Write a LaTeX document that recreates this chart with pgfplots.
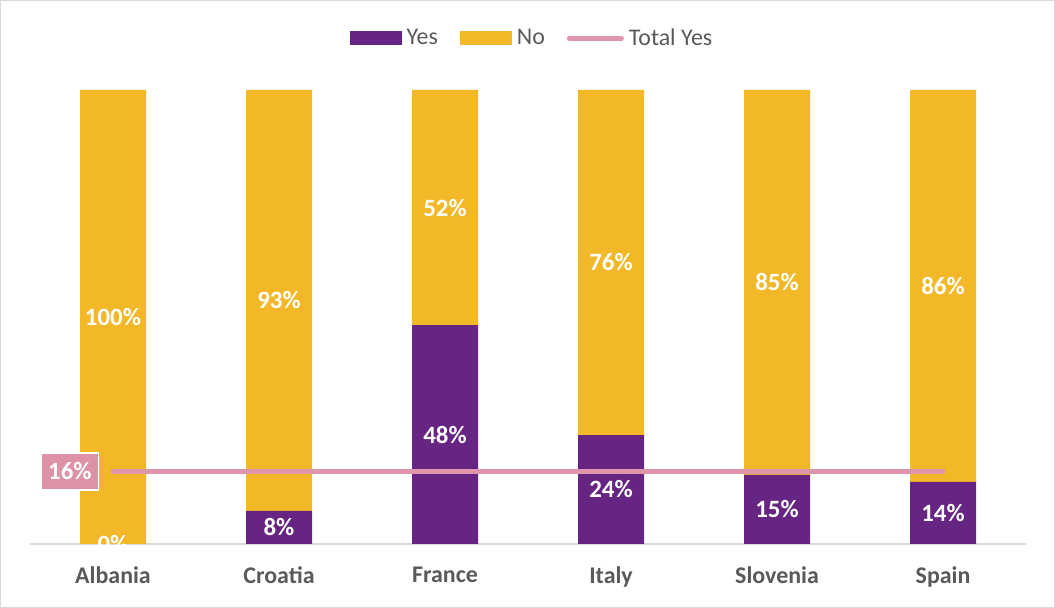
\documentclass[border=0pt]{standalone}
\usepackage{fontspec}
\setmainfont{Carlito}
\usepackage{pgfplots}
\pgfplotsset{compat=1.18}
\definecolor{yesc}{RGB}{102,36,131}
\definecolor{noc}{RGB}{242,184,39}
\definecolor{pinkc}{RGB}{224,150,170}
\definecolor{boxc}{RGB}{222,146,168}
\definecolor{txtc}{RGB}{89,89,89}
\definecolor{axc}{RGB}{217,217,217}
\begin{document}
\begin{tikzpicture}[x=1bp,y=1bp]
\useasboundingbox (-30,-64) rectangle (1025,544);
\draw[axc, line width=1.2bp] (-29.4,-63.4) rectangle (1024.4,543.4);
\pgfplotsset{
  base/.style={
    scale only axis, width=996bp, height=454bp,
    xmin=-0.5, xmax=5.5, ymin=0, ymax=100,
    at={(0,0)}, anchor=south west,
  }
}
\begin{axis}[base,
  ybar stacked, bar width=66bp,
  axis x line*=bottom, axis y line=none,
  x axis line style={axc, line width=1.2bp},
  xtick={0,...,5},
  xticklabels={Albania,Croatia,France,Italy,Slovenia,Spain},
  major tick length=0pt,
  xticklabel style={text=txtc, font=\fontsize{24}{28}\selectfont\bfseries, yshift=-19bp},
  ytick=\empty,
  legend columns=3,
  legend style={at={(0.504,1.1145)}, anchor=center, draw=none, fill=none,
    font=\fontsize{24}{28}\selectfont, text=txtc,
    nodes={inner sep=2bp},
    /tikz/every odd column/.append style={column sep=3bp},
    /tikz/every even column/.append style={column sep=20bp}},
]
\addplot[fill=yesc, draw=none,
  legend image code/.code={\fill[yesc] (0bp,-7bp) rectangle (52bp,7bp);}]
  coordinates {(0,0) (1,7.3) (2,48.2) (3,24.0) (4,15.2) (5,13.7)};
\addlegendentry{Yes}
\addplot[fill=noc, draw=none,
  legend image code/.code={\fill[noc] (0bp,-7bp) rectangle (52bp,7bp);}]
  coordinates {(0,100) (1,92.7) (2,51.8) (3,76.0) (4,84.8) (5,86.3)};
\addlegendentry{No}
\addlegendimage{legend image code/.code={\draw[pinkc, line width=5bp, line cap=round] (2bp,0bp) -- (54bp,0bp);}}
\addlegendentry{Total Yes}
\end{axis}
\begin{axis}[base, hide axis]
\addplot[pinkc, line width=5bp, line cap=round] coordinates {(0,16) (5,16)};
\addplot[draw=none, mark=none, nodes near coords, point meta=explicit symbolic,
  every node near coord/.style={anchor=center, text=white, font=\fontsize{25}{29}\selectfont\bfseries}]
  coordinates {(0,0.1)[0\%] (1,3.65)[8\%] (2,24.1)[48\%] (3,12)[24\%] (4,7.6)[15\%] (5,6.85)[14\%]
  (0,50)[100\%] (1,53.65)[93\%] (2,74.1)[52\%] (3,62)[76\%] (4,57.6)[85\%] (5,56.85)[86\%]};
\addplot[draw=none, mark=none, nodes near coords, point meta=explicit symbolic,
  every node near coord/.style={anchor=center, fill=boxc, draw=white, line width=1.5bp, text=white,
    font=\fontsize{25}{29}\selectfont\bfseries, minimum width=57bp, minimum height=37bp, inner sep=0pt}]
  coordinates {(-0.26,16)[16\%]};
\end{axis}
\end{tikzpicture}
\end{document}
